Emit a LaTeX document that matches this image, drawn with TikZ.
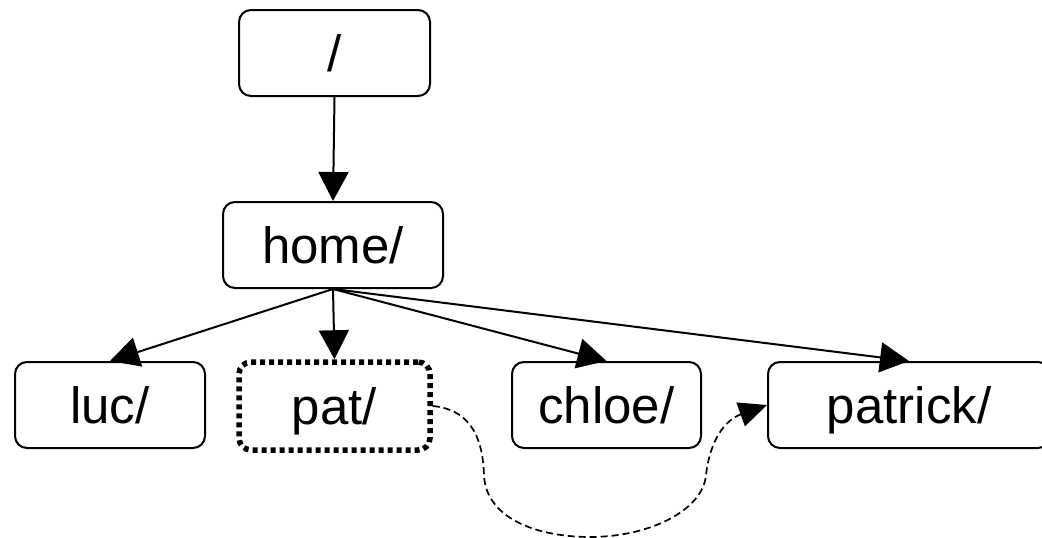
\documentclass[tikz,border=0pt]{standalone}
\usepackage{fontspec}
\setmainfont{Liberation Sans}
\usetikzlibrary{arrows.meta}
\begin{document}
\begin{tikzpicture}[x=1pt,y=-1pt,
  box/.style={draw, line width=2pt, rounded corners=12pt, inner sep=0pt,
    text height=36pt, text depth=0pt, font=\fontsize{51}{56}\selectfont},
  dotbox/.style={box, line width=5.5pt, dash pattern=on 5pt off 4pt},
  arr/.style={line width=2pt, -{Triangle[length=29pt,width=30pt]}},
  link/.style={line width=1.7pt, dash pattern=on 7pt off 4pt, -{Triangle[length=28pt,width=25pt]}}]
\useasboundingbox (0,0) rectangle (1042,538);
\begin{scope}
\clip (0,0) rectangle (1042,538);
\node[box, minimum width=191pt, minimum height=86pt] (root) at (334.5,53) {/};
\node[box, minimum width=220pt, minimum height=86pt] (home) at (333,245) {home/};
\node[box, minimum width=190pt, minimum height=86pt] (luc) at (110,405) {luc/};
\node[dotbox, minimum width=191pt, minimum height=88pt] (pat) at (334.5,406) {pat/};
\node[box, minimum width=189pt, minimum height=86pt] (chloe) at (606.5,405) {chloe/};
\node[box, minimum width=282pt, minimum height=86pt] (patrick) at (909,405) {patrick/};
\end{scope}
\draw[arr] (root.south) -- (home.north);
\draw[arr] (home.south) -- (luc.north);
\draw[arr] (home.south) -- (pat.north);
\draw[arr] (home.south) -- (chloe.north);
\draw[arr] (home.south) -- (patrick.north);
\coordinate (c1) at (484,475);
\coordinate (c2) at (590,537);
\coordinate (c3) at (706,475);
\draw[link] (pat.east) .. controls (475,410) and (483,445) .. (c1)
  .. controls (486,520) and (540,537) .. (c2)
  .. controls (650,537) and (703,510) .. (c3)
  .. controls (710,440) and (725,420) .. (patrick.west);
\end{tikzpicture}
\end{document}
